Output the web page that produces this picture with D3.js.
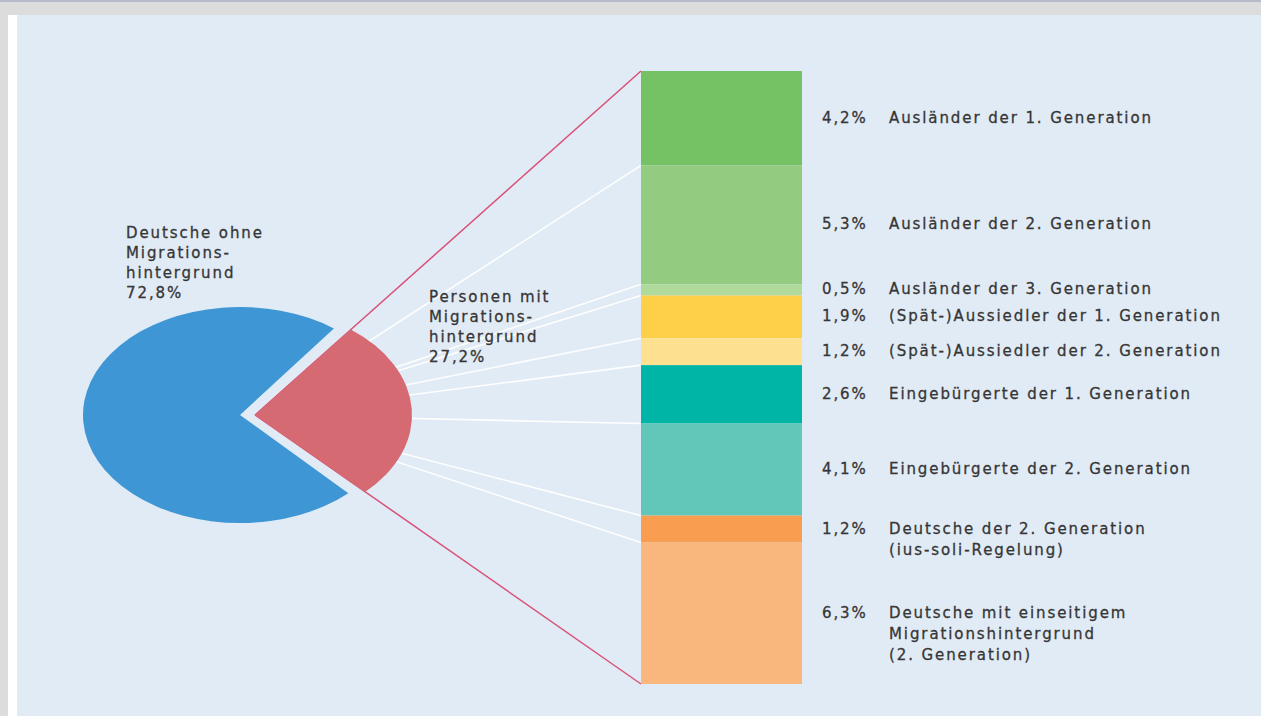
<!DOCTYPE html>
<html>
<head>
<meta charset="utf-8">
<script src="https://cdn.jsdelivr.net/npm/d3@7"></script>
<style>
  html, body { margin: 0; padding: 0; background: #dcdcdc; }
  svg { display: block; }
  text { font-family: "DejaVu Sans", Verdana, sans-serif; font-size: 15px; fill: #363636; stroke: #363636; stroke-width: 0.3px; letter-spacing: 1.9px; }
</style>
</head>
<body>
<svg id="chart" width="1261" height="716"></svg>
<script>
// Population by migration status (share of total population, %)
const pieNames = ["Personen mit", "Deutsche ohne"];
const pieValues = [27.2, 72.8];
const pieLabelLines = [
  ["Personen mit", "Migrations-", "hintergrund", "27,2%"],
  ["Deutsche ohne", "Migrations-", "hintergrund", "72,8%"]
];
const pieColors = ["#d66a73", "#3e97d4"];

// Breakdown of persons with migration background
const categories = [
  ["Ausländer der 1. Generation"],
  ["Ausländer der 2. Generation"],
  ["Ausländer der 3. Generation"],
  ["(Spät-)Aussiedler der 1. Generation"],
  ["(Spät-)Aussiedler der 2. Generation"],
  ["Eingebürgerte der 1. Generation"],
  ["Eingebürgerte der 2. Generation"],
  ["Deutsche der 2. Generation", "(ius-soli-Regelung)"],
  ["Deutsche mit einseitigem", "Migrationshintergrund", "(2. Generation)"]
];
const values = [4.2, 5.3, 0.5, 1.9, 1.2, 2.6, 4.1, 1.2, 6.3];
const barColors = ["#74c264", "#93cb80", "#b0da9c", "#fed04a", "#fde190",
                   "#00b5a6", "#62c6b9", "#f99d51", "#f9b67d"];

const svg = d3.select("#chart");
const fmt = d3.formatLocale({ decimal: ",", thousands: ".", grouping: [3], currency: ["", "€"] }).format(".1f");

// page frame
svg.append("rect").attr("x", 0).attr("y", 0).attr("width", 1261).attr("height", 2).attr("fill", "#b6bacb");
svg.append("rect").attr("x", 8).attr("y", 15).attr("width", 9).attr("height", 701).attr("fill", "#ffffff");
svg.append("rect").attr("x", 17).attr("y", 15).attr("width", 1244).attr("height", 701).attr("fill", "#e1ebf5");

// layout
const pieCx = 240, pieCy = 415, ry = 108, xStretch = 157 / 108, explode = 15;
const barX0 = 641, barX1 = 802, barTop = 71, barBottom = 684;
const apex = [pieCx + explode, pieCy];

// stacked bar scale
const y = d3.scaleLinear().domain([0, d3.sum(values)]).range([barTop, barBottom]);
const cum = d3.cumsum(values);
const segs = values.map((v, i) => ({ v, i, y0: y(cum[i] - v), y1: y(cum[i]) }));

// connector lines radiating from the exploded slice's tip (covered by the pie inside)
const lines = svg.append("g");
segs.slice(0, -1).forEach(s => {
  lines.append("line")
    .attr("x1", apex[0]).attr("y1", apex[1])
    .attr("x2", barX0).attr("y2", s.y1)
    .attr("stroke", "#ffffff").attr("stroke-width", 1.6).attr("stroke-opacity", 0.95);
});
[barTop, barBottom].forEach(yy => {
  lines.append("line")
    .attr("x1", apex[0]).attr("y1", apex[1])
    .attr("x2", barX0).attr("y2", yy)
    .attr("stroke", "#d95079").attr("stroke-width", 1.5);
});

// pie (elliptical), the migration slice centred slightly above the horizontal
const redSpan = 2 * Math.PI * pieValues[0] / d3.sum(pieValues);
const centreAngle = Math.PI / 2 - 3.45 * Math.PI / 180;
const pie = d3.pie().sort(null).value(d => d)
  .startAngle(centreAngle - redSpan / 2)
  .endAngle(centreAngle - redSpan / 2 + 2 * Math.PI);
const arcs = pie(pieValues);
const arc = d3.arc().innerRadius(0).outerRadius(ry);
const arcPadded = d3.arc().innerRadius(0).outerRadius(ry).padAngle(0.03).padRadius(ry);

const pieG = svg.append("g");
arcs.forEach((a, i) => {
  const dx = i === 0 ? explode : 0;
  pieG.append("path")
    .attr("transform", `translate(${pieCx + dx},${pieCy}) scale(${xStretch},1)`)
    .attr("d", i === 0 ? arc(a) : arcPadded(a))
    .attr("fill", pieColors[i]);
});

// stacked bar
svg.append("g").selectAll("rect").data(segs).join("rect")
  .attr("x", barX0).attr("width", barX1 - barX0)
  .attr("y", d => d.y0).attr("height", d => d.y1 - d.y0)
  .attr("fill", d => barColors[d.i]);

// bar labels
const lab = svg.append("g");
segs.forEach(s => {
  const base = (s.y0 + s.y1) / 2 + 4.5;
  lab.append("text").attr("x", 822).attr("y", base).text(fmt(s.v) + "%");
  categories[s.i].forEach((ln, k) => {
    lab.append("text").attr("x", 889).attr("y", base + k * 21).text(ln);
  });
});

// pie labels
const pieLabelPos = [[429, 302], [126, 238]];
pieLabelLines.forEach((lns, i) => {
  lns.forEach((ln, k) => {
    svg.append("text").attr("x", pieLabelPos[i][0]).attr("y", pieLabelPos[i][1] + k * 20).text(ln);
  });
});
</script>
</body>
</html>
